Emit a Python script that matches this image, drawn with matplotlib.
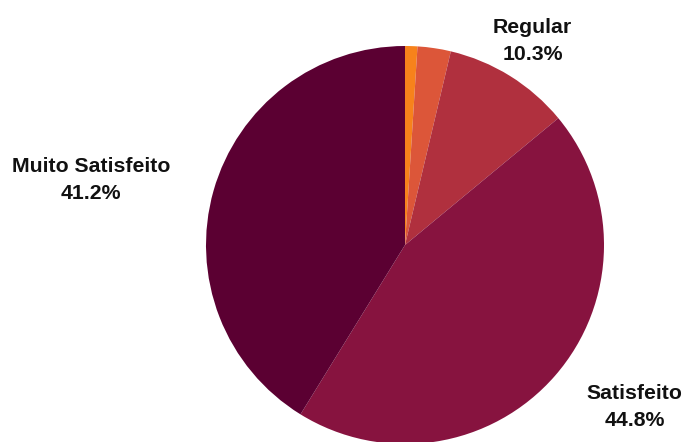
import numpy as np
import matplotlib
matplotlib.use("Agg")
from matplotlib import pyplot as plt

plt.rcParams['font.family'] = ['Liberation Sans', 'DejaVu Sans']

# data, clockwise from 12 o'clock
categories = ['Muito Insatisfeito', 'Insatisfeito', 'Regular', 'Satisfeito', 'Muito Satisfeito']
values = [1.0, 2.7, 10.3, 44.8, 41.2]
colors = ['#f7821b', '#dc5639', '#b0303e', '#87133f', '#5b0032']
show_label = [False, False, True, True, True]

# label centres in pie-radius units (angle in degrees, distance)
label_pos = [(0, 0), (0, 0), (58.3, 1.22), (-34.8, 1.405), (167.9, 1.614)]

fig = plt.figure(figsize=(6.86, 4.42), dpi=100)
ax = fig.add_axes([0, 0, 1, 1])

wedges, _ = ax.pie(values, colors=colors, startangle=90, counterclock=False,
                   radius=1, wedgeprops=dict(linewidth=0))

for name, v, show, (a, d) in zip(categories, values, show_label, label_pos):
    if not show:
        continue
    ang = np.deg2rad(a)
    ax.text(d * np.cos(ang), d * np.sin(ang) - 0.012, "%s\n%.1f%%" % (name, v),
            ha='center', va='center', fontsize=15.3, fontweight='bold',
            color='#111111', linespacing=1.52)

ax.set_xlim(-405 / 199, 281 / 199)
ax.set_ylim(-197 / 199, 245 / 199)
ax.axis('off')

fig.savefig('out.png', dpi=100)
